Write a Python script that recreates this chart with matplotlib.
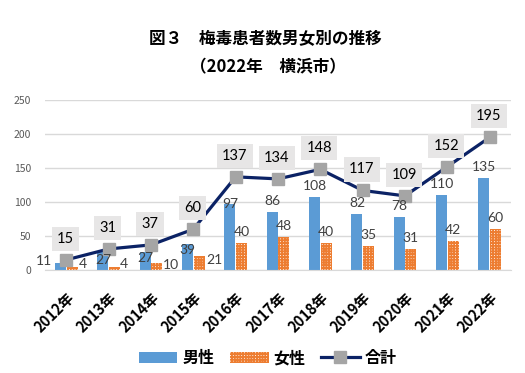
import numpy as np
import matplotlib
matplotlib.use("Agg")
import matplotlib.pyplot as plt

plt.rcParams['font.family'] = ['Noto Sans CJK JP', 'DejaVu Sans']
plt.rcParams['hatch.linewidth'] = 1.3

years = ['2012年', '2013年', '2014年', '2015年', '2016年', '2017年',
         '2018年', '2019年', '2020年', '2021年', '2022年']
male = [11, 27, 27, 39, 97, 86, 108, 82, 78, 110, 135]
female = [4, 4, 10, 21, 40, 48, 40, 35, 31, 42, 60]
total = [15, 31, 37, 60, 137, 134, 148, 117, 109, 152, 195]

# label placement tweaks for the crowded early years (pixels: dx, dy, ha)
male_lbl = [(-3, 2, 'right', 'left'), (0, -8, 'center', 'mid'), (0, -6, 'center', 'mid'),
            (0, -6, 'center', 'mid'), (0, 0, 'center', 'mid')]
female_lbl = [(1, 3, 'left', 'right'), (0, 3, 'left', 'right'), (1, -2, 'left', 'right'),
              (2, -4, 'left', 'right')]

blue = '#5B9BD5'
orange = '#ED7D31'
navy = '#0B2265'
num_font = 'Lato'

fig = plt.figure(figsize=(5.25, 3.73), dpi=100)
ax = fig.add_axes([0.086, 0.276, 0.887, 0.456])

x = np.arange(len(years))
w = 0.26
b1 = ax.bar(x - 0.135, male, width=w, color=blue, label='男性', zorder=2)
b2 = ax.bar(x + 0.135, female, width=w, facecolor='white', edgecolor=orange,
            hatch='++++++', linewidth=0, label='女性', zorder=2)
ln, = ax.plot(x, total, color=navy, linewidth=2.3, marker='s', markersize=8,
              markerfacecolor='#A5A5A5', markeredgecolor='#A5A5A5', label='合計', zorder=3)


def put(rect, val, spec):
    dx, dy, ha, where = spec
    xc = rect.get_x() + rect.get_width() / 2
    if where == 'left':
        xc = rect.get_x()
    elif where == 'right':
        xc = rect.get_x() + rect.get_width()
    ax.annotate(str(val), (xc, rect.get_height()), xytext=(dx, dy),
                textcoords='offset pixels', ha=ha, va='center', fontsize=10,
                color='#404040', family=num_font, zorder=4)


for i, r in enumerate(b1):
    spec = male_lbl[i] if i < len(male_lbl) else (0, 11, 'center', 'mid')
    put(r, male[i], spec)
for i, r in enumerate(b2):
    spec = female_lbl[i] if i < len(female_lbl) else (0, 11, 'center', 'mid')
    put(r, female[i], spec)

for i, v in enumerate(total):
    ax.annotate(str(v), (x[i], v), xytext=(-1, 21), textcoords='offset pixels',
                ha='center', va='center', fontsize=10.5, color='black', family=num_font,
                bbox=dict(boxstyle='square,pad=0.35', facecolor='#E7E6E6', edgecolor='none'),
                zorder=5)

ax.set_xlim(-0.5, len(years) - 0.5)
ax.set_ylim(0, 250)
ax.set_yticks(range(0, 251, 50))
ax.yaxis.grid(True, color='#D9D9D9', linewidth=1)
ax.set_axisbelow(True)
for s in ['top', 'right', 'left']:
    ax.spines[s].set_visible(False)
ax.spines['bottom'].set_color('#D9D9D9')
ax.tick_params(axis='both', length=0)
ax.tick_params(axis='y', labelsize=7.5, labelcolor='#595959', pad=10)
ax.set_xticks(x)
ax.set_xticklabels(years, rotation=45, ha='right', rotation_mode='anchor',
                   fontsize=10.5, fontweight='bold')
ax.tick_params(axis='x', pad=14)

fig.text(0.505, 0.898, '図３　梅毒患者数男女別の推移', ha='center', va='center',
         fontsize=12, fontweight='bold')
fig.text(0.51, 0.82, '（2022年　横浜市）', ha='center', va='center',
         fontsize=12, fontweight='bold')

fig.legend(handles=[b1, b2, ln], loc='center', bbox_to_anchor=(0.51, 0.04),
           ncol=3, frameon=False, prop={'size': 11.5, 'weight': 'bold'},
           handlelength=2.4, handletextpad=0.3, columnspacing=1.0)

fig.savefig('out.png', dpi=100)
